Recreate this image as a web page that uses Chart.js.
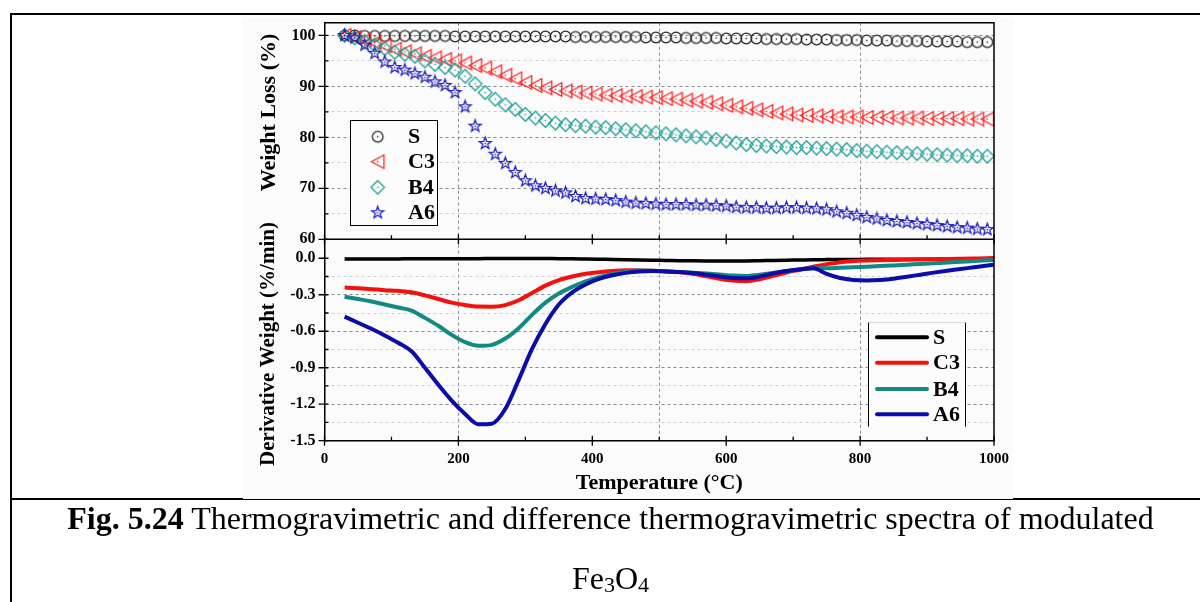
<!DOCTYPE html>
<html>
<head>
<meta charset="utf-8">
<script src="https://cdn.jsdelivr.net/npm/chart.js@4.4.1/dist/chart.umd.min.js"></script>
<style>
  html, body { margin: 0; padding: 0; background: #fff; }
  body { width: 1200px; height: 602px; position: relative; overflow: hidden; font-family: "Liberation Serif", "Times New Roman", serif; }
  .rule { position: absolute; background: #000; }
  #plotBg { position: absolute; left: 243px; top: 18px; width: 770px; height: 481px; background: #fbfbfb; }
  #chart { position: absolute; left: 0; top: 0; }
  .caption { position: absolute; left: 11px; width: 1199px; text-align: center; font-size: 32px; line-height: 1; color: #000; white-space: nowrap; }
  .caption sub { font-size: 22px; vertical-align: -3px; line-height: 0; }
</style>
</head>
<body>
<div class="rule" style="left:10px;top:13px;width:1190px;height:2px"></div>
<div class="rule" style="left:10px;top:13px;width:2px;height:589px"></div>
<div class="rule" style="left:10px;top:498px;width:1190px;height:2px"></div>
<div id="plotBg"></div>
<canvas id="chart" width="1200" height="602"></canvas>
<div class="caption" style="top:502px"><b>Fig. 5.24</b> Thermogravimetric and difference thermogravimetric spectra of modulated</div>
<div class="caption" style="top:562px">Fe<sub>3</sub>O<sub>4</sub></div>
<script>
// =========================
// DATA
// =========================
const seriesNames = ["S", "C3", "B4", "A6"];

// weight loss (TGA) read every 15 °C
const tgaTemps = [
    30, 45, 60, 75, 90, 105, 120, 135, 150, 165, 180, 195, 210,
    225, 240, 255, 270, 285, 300, 315, 330, 345, 360, 375, 390, 405,
    420, 435, 450, 465, 480, 495, 510, 525, 540, 555, 570, 585, 600,
    615, 630, 645, 660, 675, 690, 705, 720, 735, 750, 765, 780, 795,
    810, 825, 840, 855, 870, 885, 900, 915, 930, 945, 960, 975, 990
];
const tgaS = [
    100.0, 100.0, 99.9, 99.9, 99.9, 99.9, 99.9, 99.9, 99.9, 99.9, 99.9, 99.8, 99.8,
    99.8, 99.8, 99.8, 99.8, 99.8, 99.8, 99.8, 99.8, 99.8, 99.8, 99.7, 99.7, 99.7,
    99.7, 99.7, 99.7, 99.7, 99.6, 99.6, 99.6, 99.6, 99.5, 99.5, 99.5, 99.5, 99.4,
    99.4, 99.4, 99.4, 99.3, 99.3, 99.3, 99.3, 99.2, 99.2, 99.2, 99.1, 99.1, 99.1,
    99.0, 99.0, 99.0, 98.9, 98.9, 98.9, 98.8, 98.8, 98.8, 98.8, 98.7, 98.7, 98.7
];
const tgaC3 = [
    100.0, 99.6, 99.1, 98.6, 98.0, 97.3, 96.8, 96.4, 95.9, 95.6, 95.3, 95.0, 94.6,
    94.1, 93.6, 92.9, 92.2, 91.5, 90.8, 90.2, 89.7, 89.4, 89.1, 88.9, 88.7, 88.5,
    88.3, 88.2, 88.1, 88.0, 87.9, 87.8, 87.6, 87.5, 87.3, 87.1, 86.9, 86.6, 86.3,
    86.0, 85.7, 85.4, 85.1, 84.8, 84.6, 84.4, 84.3, 84.2, 84.1, 84.0, 84.0, 84.0,
    83.9, 83.9, 83.9, 83.8, 83.8, 83.8, 83.7, 83.7, 83.7, 83.7, 83.6, 83.6, 83.6
];
const tgaB4 = [
    100.0, 99.5, 98.8, 98.1, 97.4, 96.7, 96.3, 95.9, 95.0, 94.3, 93.7, 93.2, 92.0,
    90.5, 88.8, 87.5, 86.4, 85.5, 84.5, 83.8, 83.3, 82.8, 82.5, 82.3, 82.2, 82.0,
    81.9, 81.7, 81.5, 81.3, 81.1, 80.9, 80.7, 80.5, 80.3, 80.1, 79.9, 79.6, 79.3,
    78.9, 78.6, 78.4, 78.3, 78.2, 78.1, 78.0, 78.0, 77.9, 77.8, 77.7, 77.6, 77.4,
    77.3, 77.2, 77.1, 77.0, 76.9, 76.8, 76.7, 76.6, 76.5, 76.4, 76.4, 76.3, 76.3
];
const tgaA6 = [
    100.0, 99.5, 98.1, 96.5, 94.8, 93.7, 93.2, 92.5, 91.8, 90.9, 90.2, 88.8, 86.0,
    82.2, 78.8, 76.7, 74.9, 73.1, 71.5, 70.5, 70.0, 69.5, 69.1, 68.4, 68.0, 67.9,
    67.8, 67.6, 67.3, 67.1, 67.0, 66.9, 66.8, 66.8, 66.8, 66.7, 66.7, 66.6, 66.5,
    66.3, 66.2, 66.2, 66.1, 66.1, 66.2, 66.2, 66.1, 66.0, 65.8, 65.4, 65.1, 64.7,
    64.3, 64.0, 63.7, 63.5, 63.3, 63.1, 62.9, 62.7, 62.5, 62.3, 62.2, 62.0, 61.9
];

// derivative weight (DTG) read every 20 °C
const dtgTemps = [
    30, 50, 70, 90, 110, 130, 150, 170, 190, 210,
    230, 250, 270, 290, 310, 330, 350, 370, 390, 410,
    430, 450, 470, 490, 510, 530, 550, 570, 590, 610,
    630, 650, 670, 690, 710, 730, 750, 770, 790, 810,
    830, 850, 870, 890, 910, 930, 950, 970, 990, 1000
];
const dtgS = [
    -0.005, -0.005, -0.005, -0.005, -0.005, -0.004, -0.004, -0.004, -0.003, -0.003,
    -0.003, -0.002, -0.002, -0.001, -0.001, -0.002, -0.003, -0.004, -0.006, -0.008,
    -0.010, -0.012, -0.014, -0.016, -0.018, -0.020, -0.021, -0.022, -0.023, -0.023,
    -0.022, -0.020, -0.018, -0.016, -0.014, -0.012, -0.011, -0.010, -0.010, -0.009,
    -0.009, -0.009, -0.008, -0.008, -0.008, -0.007, -0.007, -0.007, -0.006, -0.006
];
const dtgC3 = [
    -0.240, -0.247, -0.254, -0.262, -0.268, -0.280, -0.305, -0.335, -0.365, -0.385,
    -0.397, -0.398, -0.385, -0.345, -0.285, -0.225, -0.180, -0.150, -0.128, -0.115,
    -0.105, -0.098, -0.100, -0.103, -0.108, -0.115, -0.128, -0.148, -0.168, -0.183,
    -0.188, -0.172, -0.145, -0.118, -0.094, -0.070, -0.048, -0.032, -0.022, -0.018,
    -0.016, -0.014, -0.012, -0.010, -0.008, -0.006, -0.004, -0.002, 0.000, 0.002
];
const dtgB4 = [
    -0.316, -0.335, -0.355, -0.380, -0.405, -0.430, -0.490, -0.555, -0.630, -0.690,
    -0.720, -0.712, -0.660, -0.575, -0.465, -0.365, -0.290, -0.235, -0.190, -0.155,
    -0.128, -0.110, -0.100, -0.103, -0.107, -0.112, -0.118, -0.125, -0.133, -0.142,
    -0.145, -0.135, -0.120, -0.105, -0.090, -0.082, -0.082, -0.078, -0.073, -0.069,
    -0.064, -0.059, -0.053, -0.047, -0.041, -0.035, -0.029, -0.023, -0.017, -0.014
];
const dtgA6 = [
    -0.480, -0.530, -0.580, -0.635, -0.695, -0.765, -0.900, -1.040, -1.170, -1.280,
    -1.365, -1.360, -1.240, -1.000, -0.745, -0.540, -0.380, -0.280, -0.215, -0.170,
    -0.140, -0.120, -0.108, -0.105, -0.108, -0.113, -0.122, -0.135, -0.150, -0.162,
    -0.165, -0.150, -0.125, -0.105, -0.092, -0.082, -0.128, -0.162, -0.178, -0.182,
    -0.178, -0.168, -0.152, -0.135, -0.118, -0.102, -0.088, -0.074, -0.060, -0.054
];

// ticks
const xTicks = [0, 100, 200, 300, 400, 500, 600, 700, 800, 900, 1000];
const xLabelTicks = [0, 200, 400, 600, 800, 1000];
const xGridAt = [200, 500, 800];
const tgaTicks = [60, 65, 70, 75, 80, 85, 90, 95, 100];
const tgaLabelTicks = [60, 70, 80, 90, 100];
const dtgTicks = [-1.5, -1.35, -1.2, -1.05, -0.9, -0.75, -0.6, -0.45, -0.3, -0.15, 0];
const dtgLabelTicks = [-1.5, -1.2, -0.9, -0.6, -0.3, 0];

// =========================
// STYLES
// =========================
const lineColors = ["#000000", "#f50f0f", "#138a80", "#0c0ca8"];
const markerColors = ["#262626", "#ff2020", "#24a096", "#1d1db8"];
const markerKinds = ["circle", "triangle", "diamond", "star"];
const boldSerif = size => ({ family: "Liberation Serif", size: size, weight: "bold" });

function makeMarker(kind, color) {
    const c = document.createElement("canvas");
    c.width = 17; c.height = 17;
    const g = c.getContext("2d");
    g.translate(8.5, 8.5);
    g.strokeStyle = color;
    g.fillStyle = color;
    g.lineWidth = 1.25;
    g.beginPath();
    if (kind === "circle") {
        g.arc(0, 0, 5.3, 0, Math.PI * 2);
    } else if (kind === "triangle") {
        g.moveTo(-6.3, 0); g.lineTo(6.3, -6.8); g.lineTo(6.3, 6.8); g.closePath();
    } else if (kind === "diamond") {
        g.moveTo(0, -6.8); g.lineTo(6.8, 0); g.lineTo(0, 6.8); g.lineTo(-6.8, 0); g.closePath();
    } else {
        for (let i = 0; i < 10; i++) {
            const r = i % 2 ? 2.6 : 6.3;
            const a = -Math.PI / 2 + i * Math.PI / 5;
            if (i === 0) g.moveTo(r * Math.cos(a), r * Math.sin(a));
            else g.lineTo(r * Math.cos(a), r * Math.sin(a));
        }
        g.closePath();
    }
    g.stroke();
    g.fillRect(-0.7, -0.7, 1.4, 1.4);
    return c;
}
const markers = markerKinds.map((k, i) => makeMarker(k, markerColors[i]));

const tgaSeries = [tgaS, tgaC3, tgaB4, tgaA6];
const dtgSeries = [dtgS, dtgC3, dtgB4, dtgA6];

const datasets = [];
tgaSeries.forEach((vals, i) => {
    datasets.push({
        label: seriesNames[i] + " TGA",
        data: vals.map((v, j) => ({ x: tgaTemps[j], y: v })),
        yAxisID: "y",
        showLine: false,
        pointStyle: markers[i],
        pointRadius: 5,
        order: 10 - i
    });
});
dtgSeries.forEach((vals, i) => {
    datasets.push({
        label: seriesNames[i] + " DTG",
        data: vals.map((v, j) => ({ x: dtgTemps[j], y: v })),
        yAxisID: "y2",
        showLine: true,
        borderColor: lineColors[i],
        borderWidth: i === 0 ? 3.5 : 4,
        pointRadius: 0,
        cubicInterpolationMode: "monotone",
        order: 5 - i
    });
});

// =========================
// FRAME, TICKS, TITLES, LEGENDS
// =========================
const frameAndLegends = {
    id: "frameAndLegends",
    afterDraw(chart) {
        const { ctx, chartArea: a, scales } = chart;
        const x = scales.x, yT = scales.y, yD = scales.y2;
        const mid = yD.top;
        ctx.save();

        // box + middle axis
        ctx.strokeStyle = "#000";
        ctx.lineWidth = 1.5;
        ctx.beginPath();
        ctx.moveTo(a.left, a.top); ctx.lineTo(a.right, a.top); ctx.lineTo(a.right, a.bottom);
        ctx.moveTo(a.left, mid); ctx.lineTo(a.right, mid);
        ctx.stroke();

        // tick marks
        ctx.lineWidth = 1.3;
        ctx.beginPath();
        xTicks.forEach(v => {
            const px = x.getPixelForValue(v);
            const major = xLabelTicks.includes(v);
            [a.bottom, mid].forEach(py => {
                if (major) { ctx.moveTo(px, py - 5); ctx.lineTo(px, py + 5); }
                else { ctx.moveTo(px, py - 4); ctx.lineTo(px, py); }
            });
        });
        const yTicks = (scale, list, majors) => {
            list.forEach(v => {
                const py = scale.getPixelForValue(v);
                const major = majors.some(m => Math.abs(m - v) < 1e-6);
                if (major) { ctx.moveTo(a.left - 6, py); ctx.lineTo(a.left + 4, py); }
                else { ctx.moveTo(a.left, py); ctx.lineTo(a.left + 4, py); }
            });
        };
        yTicks(yT, tgaTicks, tgaLabelTicks);
        yTicks(yD, dtgTicks, dtgLabelTicks);
        ctx.stroke();

        // axis titles
        ctx.fillStyle = "#000";
        ctx.textAlign = "center";
        ctx.textBaseline = "alphabetic";
        ctx.font = "bold 22px 'Liberation Serif'";
        ctx.fillText("Temperature (°C)", (a.left + a.right) / 2, 489);
        ctx.save();
        ctx.translate(275, 112.5);
        ctx.rotate(-Math.PI / 2);
        ctx.fillText("Weight Loss (%)", 0, 0);
        ctx.restore();
        ctx.save();
        ctx.translate(273.5, 344);
        ctx.rotate(-Math.PI / 2);
        ctx.font = "bold 21px 'Liberation Serif'";
        ctx.fillText("Derivative Weight (%/min)", 0, 0);
        ctx.restore();

        // symbol legend (top panel)
        ctx.fillStyle = "#fcfcfc";
        ctx.fillRect(350, 120.7, 87, 104.6);
        ctx.strokeStyle = "#000";
        ctx.lineWidth = 1;
        ctx.strokeRect(350.5, 120.5, 87, 105);
        const topRows = [136.7, 161.7, 187.3, 212.7];
        ctx.font = "bold 22px 'Liberation Serif'";
        ctx.textAlign = "left";
        ctx.textBaseline = "middle";
        seriesNames.forEach((n, i) => {
            const m = markers[i];
            ctx.drawImage(m, 377.7 - m.width / 2, topRows[i] - m.height / 2);
            ctx.fillStyle = "#000";
            ctx.fillText(n, 408, topRows[i] + 1);
        });

        // line legend (bottom panel)
        ctx.fillStyle = "#fcfcfc";
        ctx.fillRect(868.5, 322.7, 96.5, 104);
        ctx.strokeStyle = "#d8d8d8";
        ctx.beginPath();
        ctx.moveTo(868.5, 322.5); ctx.lineTo(965.5, 322.5);
        ctx.stroke();
        ctx.strokeStyle = "#000";
        ctx.beginPath();
        ctx.moveTo(868.5, 322.7); ctx.lineTo(868.5, 426.7);
        ctx.moveTo(965.5, 322.7); ctx.lineTo(965.5, 426.7);
        ctx.stroke();
        const botRows = [337.3, 362.7, 389, 414.3];
        ctx.lineCap = "round";
        seriesNames.forEach((n, i) => {
            ctx.strokeStyle = lineColors[i];
            ctx.lineWidth = 4;
            ctx.beginPath();
            ctx.moveTo(877, botRows[i]); ctx.lineTo(927, botRows[i]);
            ctx.stroke();
            ctx.fillStyle = "#000";
            ctx.fillText(n, 933, botRows[i] + 1);
        });
        ctx.restore();
    }
};

// =========================
// CHART
// =========================
const ctx = document.getElementById("chart").getContext("2d");

new Chart(ctx, {
    type: "scatter",
    data: { datasets: datasets },
    options: {
        responsive: false,
        devicePixelRatio: 1,
        animation: false,
        events: [],
        layout: { padding: { left: 264.5, top: 22.7, right: 206, bottom: 121.3 } },
        plugins: { legend: { display: false }, tooltip: { enabled: false } },
        scales: {
            x: {
                type: "linear",
                position: "bottom",
                min: 0,
                max: 1000,
                afterBuildTicks: s => { s.ticks = xTicks.map(v => ({ value: v })); },
                afterFit: s => { s.height = 40; },
                ticks: {
                    autoSkip: false,
                    maxRotation: 0,
                    padding: 9,
                    color: "#000",
                    font: boldSerif(15),
                    callback: v => xLabelTicks.includes(v) ? String(v) : ""
                },
                grid: {
                    drawTicks: false,
                    lineWidth: 1,
                    color: c => (c.tick && xGridAt.includes(c.tick.value)) ? "#8a8a8a" : "rgba(0,0,0,0)"
                },
                border: { display: true, color: "#000", width: 1.5, dash: [3, 3] }
            },
            y: {
                type: "linear",
                position: "left",
                stack: "panels",
                stackWeight: 216.6,
                weight: 2,
                min: 60,
                max: 102.5,
                afterBuildTicks: s => { s.ticks = tgaTicks.map(v => ({ value: v })); },
                afterFit: s => { s.width = 60; },
                ticks: {
                    autoSkip: false,
                    padding: 9,
                    color: "#000",
                    font: boldSerif(16),
                    callback: v => tgaLabelTicks.includes(v) ? String(v) : ""
                },
                grid: {
                    drawTicks: false,
                    lineWidth: 1,
                    color: c => {
                        const v = c.tick ? c.tick.value : null;
                        if (v === 60) return "rgba(0,0,0,0)";
                        return tgaLabelTicks.includes(v) ? "#8a8a8a" : "#cfcfcf";
                    }
                },
                border: { display: true, color: "#000", width: 1.5, dash: [3, 3] }
            },
            y2: {
                type: "linear",
                position: "left",
                stack: "panels",
                stackWeight: 201.4,
                weight: 1,
                min: -1.5,
                max: 0.156,
                afterBuildTicks: s => { s.ticks = dtgTicks.map(v => ({ value: v })); },
                afterFit: s => { s.width = 60; },
                ticks: {
                    autoSkip: false,
                    padding: 9,
                    color: "#000",
                    font: boldSerif(16),
                    callback: v => dtgLabelTicks.some(m => Math.abs(m - v) < 1e-6) ? v.toFixed(1) : ""
                },
                grid: {
                    drawTicks: false,
                    lineWidth: 1,
                    color: c => {
                        const v = c.tick ? c.tick.value : null;
                        if (v === null || Math.abs(v + 1.5) < 1e-6 || Math.abs(v) < 1e-6) return "rgba(0,0,0,0)";
                        return dtgLabelTicks.some(m => Math.abs(m - v) < 1e-6) ? "#8a8a8a" : "#cfcfcf";
                    }
                },
                border: { display: true, color: "#000", width: 1.5, dash: [3, 3] }
            }
        }
    },
    plugins: [frameAndLegends]
});
</script>
</body>
</html>
